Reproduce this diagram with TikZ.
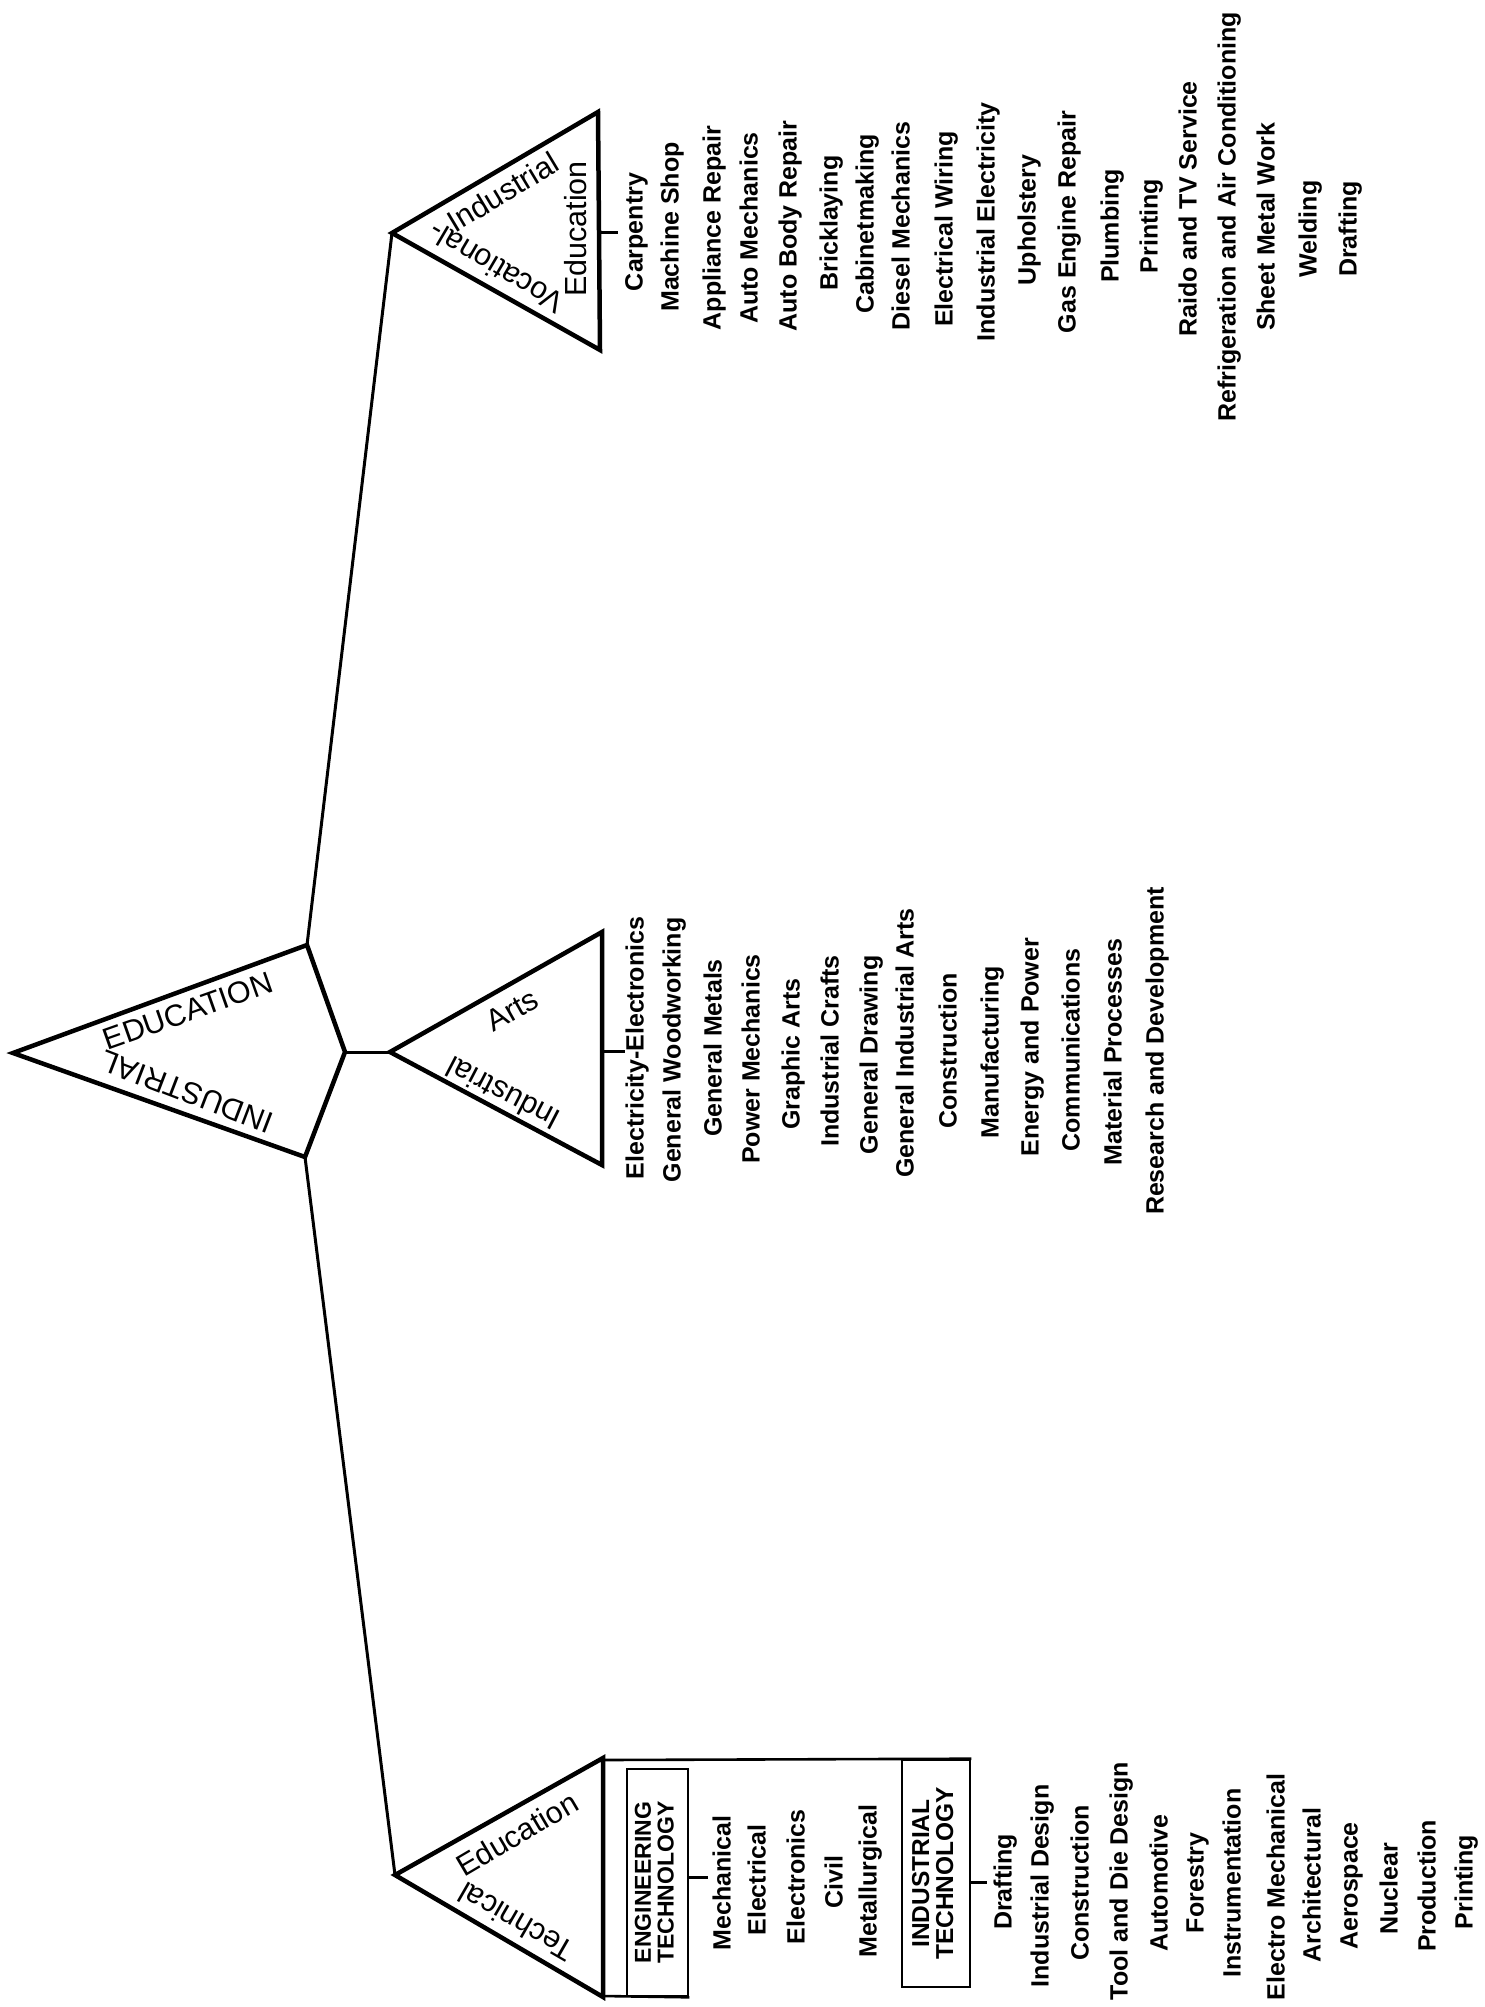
\documentclass[tikz,border=0pt]{standalone}
\usepackage{fontspec}
\setmainfont{Liberation Sans}
\newfontfamily\boxfont{Liberation Sans Bold}
\begin{document}
\begin{tikzpicture}[x=1pt,y=-1pt,
  edge/.style={line width=4.5pt, line join=miter},
  conn/.style={line width=3pt},
  thinbox/.style={line width=2.6pt},
  item/.style={rotate=90, inner sep=0pt, font=\bfseries\fontsize{25}{27}\selectfont, text height=18pt, text depth=5pt},
  lab/.style={inner sep=0pt, font=\fontsize{30.5}{33}\selectfont},
  boxlab/.style={draw, line width=2.6pt, rotate=90, inner sep=0pt}]
\useasboundingbox (0,0) rectangle (1484,2007);
\fill[white] (0,0) rectangle (1484,2007);

% main triangle
\coordinate (M1) at (13,1053);
\coordinate (M2) at (307,945);
\coordinate (M3) at (345,1052);
\coordinate (M4) at (305,1157);
\draw[edge] (M1) -- (M2) -- (M3) -- (M4) -- cycle;
\node[lab, rotate=19.5] (mEdu) at (188,1011) {EDUCATION};
\node[lab, rotate=159] (mInd) at (187,1092) {INDUSTRIAL};

% vocational triangle
\coordinate (V1) at (392,233);
\coordinate (V2) at (598,112);
\coordinate (V3) at (600,350);
\coordinate (Vm) at (599,232);
\draw[edge] (V1) -- (V2) -- (V3) -- cycle;
\node[lab, rotate=31] (vInd) at (503,192) {Industrial};
\node[lab, rotate=149.5] (vVoc) at (496,268) {Vocational-};
\node[lab, rotate=90] (vEdu) at (576,229) {Education};

% industrial arts triangle
\coordinate (A1) at (390,1052);
\coordinate (A2) at (602,932);
\coordinate (A3) at (602,1165);
\coordinate (Am) at (602,1051);
\draw[edge] (A1) -- (A2) -- (A3) -- cycle;
\node[lab, rotate=29.5] (aArts) at (512,1010) {Arts};
\node[lab, rotate=152.5] (aInd) at (503,1094) {Industrial};

% technical triangle
\coordinate (T1) at (395,1875);
\coordinate (T2) at (603,1758);
\coordinate (T3) at (603,1997);
\draw[edge] (T1) -- (T2) -- (T3) -- cycle;
\node[lab, rotate=30.5] (tEdu) at (517,1834) {Education};
\node[lab, rotate=150] (tTec) at (516,1922) {Technical};

% connectors from main triangle
\draw[conn] (M2) -- (V1);
\draw[conn] (M3) -- (A1);
\draw[conn] (M4) -- (T1);

% technology boxes
\node[boxlab, minimum width=227pt, minimum height=61pt] (eng) at (657.5,1882.5)
  {\boxfont\fontsize{23}{22}\selectfont\begin{tabular}{@{}c@{}}ENGINEERING\\TECHNOLOGY\end{tabular}};
\node[boxlab, minimum width=227pt, minimum height=68pt] (ind) at (936,1873.5)
  {\boxfont\fontsize{24.5}{23}\selectfont\begin{tabular}{@{}c@{}}INDUSTRIAL\\TECHNOLOGY\end{tabular}};
\coordinate (Ttop) at (603,1760);
\coordinate (Tbot) at (603,1996);
\draw[thinbox] (Ttop) -- (ind.south east);
\draw[thinbox] (Tbot) -- (eng.south west);

% ticks
\coordinate (vTick) at (618,232);
\coordinate (aTick) at (625,1051);
\coordinate (eTick) at (708,1877);
\coordinate (iTick) at (987,1882);
\draw[conn] (Vm) -- (vTick);
\draw[conn] (Am) -- (aTick);
\draw[conn] (eng.south |- eTick) -- (eTick);
\draw[conn] (ind.south |- iTick) -- (iTick);

% vocational-industrial list
\node[item] (v01) at (636,232) {Carpentry};
\node[item] (v02) at (672,227) {Machine Shop};
\node[item] (v03) at (714,228) {Appliance Repair};
\node[item] (v04) at (751,228) {Auto Mechanics};
\node[item] (v05) at (790,226) {Auto Body Repair};
\node[item] (v06) at (831,223) {Bricklaying};
\node[item] (v07) at (867,224) {Cabinetmaking};
\node[item] (v08) at (903,226) {Diesel Mechanics};
\node[item] (v09) at (946,229) {Electrical Wiring};
\node[item] (v10) at (988,222) {Industrial Electricity};
\node[item] (v11) at (1029,220) {Upholstery};
\node[item] (v12) at (1069,222) {Gas Engine Repair};
\node[item] (v13) at (1112,226) {Plumbing};
\node[item] (v14) at (1151,226) {Printing};
\node[item] (v15) at (1190,209) {Raido and TV Service};
\node[item] (v16) at (1229,217) {Refrigeration and Air Conditioning};
\node[item] (v17) at (1268,227) {Sheet Metal Work};
\node[item] (v18) at (1310,229) {Welding};
\node[item] (v19) at (1350,229) {Drafting};

% industrial arts list
\node[item] (a01) at (637,1048) {Electricity-Electronics};
\node[item] (a02) at (674,1050) {General Woodworking};
\node[item] (a03) at (715,1048) {General Metals};
\node[item] (a04) at (753,1059) {Power Mechanics};
\node[item] (a05) at (793,1054) {Graphic Arts};
\node[item] (a06) at (832,1051) {Industrial Crafts};
\node[item] (a07) at (871,1055) {General Drawing};
\node[item] (a08) at (907,1043) {General Industrial Arts};
\node[item] (a09) at (950,1051) {Construction};
\node[item] (a10) at (992,1052) {Manufacturing};
\node[item] (a11) at (1032,1047) {Energy and Power};
\node[item] (a12) at (1073,1050) {Communications};
\node[item] (a13) at (1115,1052) {Material Processes};
\node[item] (a14) at (1157,1051) {Research and Development};

% engineering technology list
\node[item] (e01) at (724,1883) {Mechanical};
\node[item] (e02) at (759,1880) {Electrical};
\node[item] (e03) at (798,1877) {Electronics};
\node[item] (e04) at (836,1882) {Civil};
\node[item] (e05) at (870,1881) {Metallurgical};

% industrial technology list
\node[item] (i01) at (1005,1882) {Drafting};
\node[item] (i02) at (1042,1886) {Industrial Design};
\node[item] (i03) at (1082,1883) {Construction};
\node[item] (i04) at (1121,1881) {Tool and Die Design};
\node[item] (i05) at (1161,1883) {Automotive};
\node[item] (i06) at (1197,1883) {Forestry};
\node[item] (i07) at (1234,1883) {Instrumentation};
\node[item] (i08) at (1278,1887) {Electro Mechanical};
\node[item] (i09) at (1314,1885) {Architectural};
\node[item] (i10) at (1351,1886) {Aerospace};
\node[item] (i11) at (1391,1889) {Nuclear};
\node[item] (i12) at (1429,1886) {Production};
\node[item] (i13) at (1466,1882) {Printing};
\end{tikzpicture}
\end{document}
